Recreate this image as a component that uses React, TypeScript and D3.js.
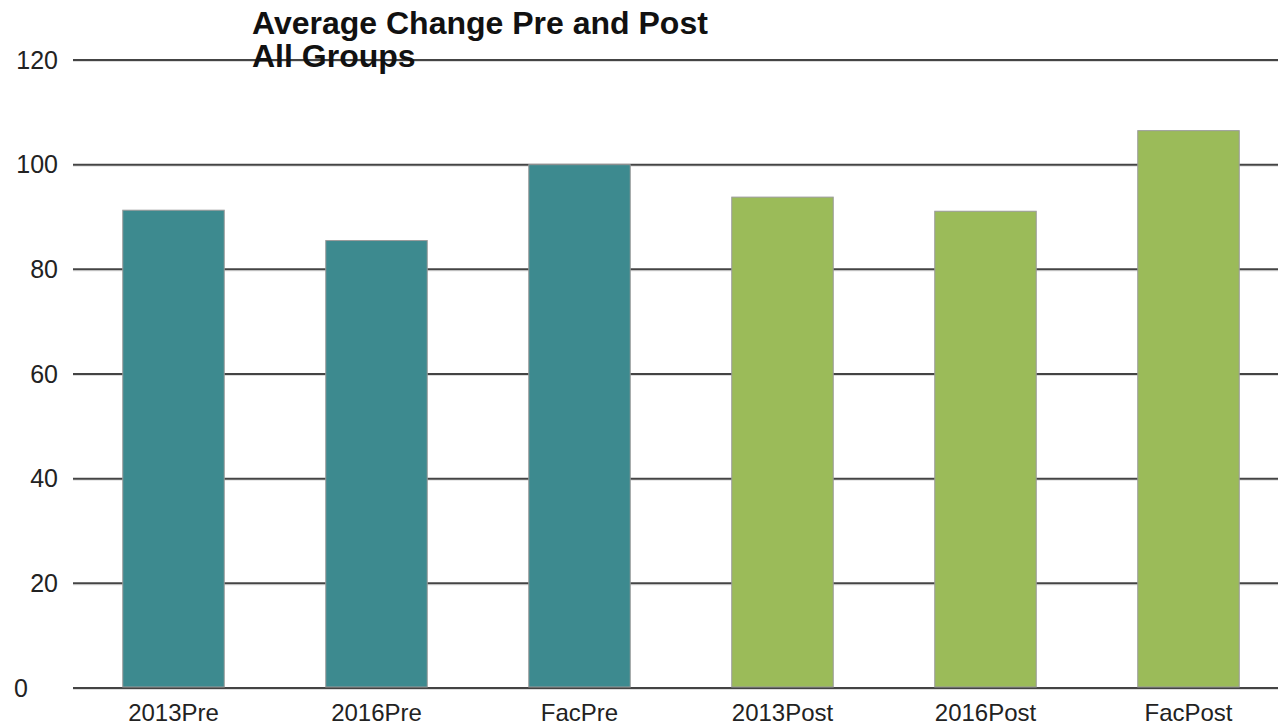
import React from "react";
import * as d3 from "d3";

const categories = ["2013Pre", "2016Pre", "FacPre", "2013Post", "2016Post", "FacPost"];
const values = [91.3, 85.5, 100, 93.8, 91.1, 106.5];
const groups = ["pre", "pre", "pre", "post", "post", "post"];
const yTicks = [0, 20, 40, 60, 80, 100, 120];
const titleLines = ["Average Change Pre and Post", "All Groups"];

const colors: Record<string, string> = { pre: "#3d8a8f", post: "#9bbb59" };

export default function App() {
  const width = 1278;
  const height = 728;
  const font = "Liberation Sans, Arial, sans-serif";

  const x = d3.scaleBand().domain(categories).range([72, 1290]).paddingInner(0.5).paddingOuter(0.25);
  const y = d3.scaleLinear().domain([0, 120]).range([688, 60]);

  return (
    <svg
      width={width}
      height={height}
      style={{ position: "fixed", left: 0, top: 0, background: "#fff" }}
    >
      {/* grid */}
      {yTicks.map((t) => (
        <g key={t}>
          <line x1={73} x2={width} y1={y(t) + 1.5} y2={y(t) + 1.5} stroke="#ddd" strokeWidth={1} />
          <line x1={73} x2={width} y1={y(t)} y2={y(t)} stroke="#444" strokeWidth={2} />
          <text
            x={t === 0 ? 28 : 58}
            y={y(t)}
            dy="0.35em"
            textAnchor="end"
            fontSize={25}
            fontFamily={font}
            fill="#222"
          >
            {t}
          </text>
        </g>
      ))}

      {/* bars */}
      {categories.map((c, i) => (
        <rect
          key={c}
          x={x(c)}
          y={y(values[i])}
          width={x.bandwidth()}
          height={y(0) - y(values[i]) - 1}
          fill={colors[groups[i]]}
          stroke="#9a9a9a"
          strokeWidth={1}
        />
      ))}

      {/* category labels */}
      {categories.map((c) => (
        <text
          key={c}
          x={(x(c) ?? 0) + x.bandwidth() / 2}
          y={721}
          textAnchor="middle"
          fontSize={24}
          fontFamily={font}
          fill="#222"
        >
          {c}
        </text>
      ))}

      {/* title */}
      {titleLines.map((l, i) => (
        <text
          key={l}
          x={252}
          y={34 + i * 33}
          fontSize={32}
          fontWeight="bold"
          fontFamily={font}
          fill="#111"
        >
          {l}
        </text>
      ))}
    </svg>
  );
}
